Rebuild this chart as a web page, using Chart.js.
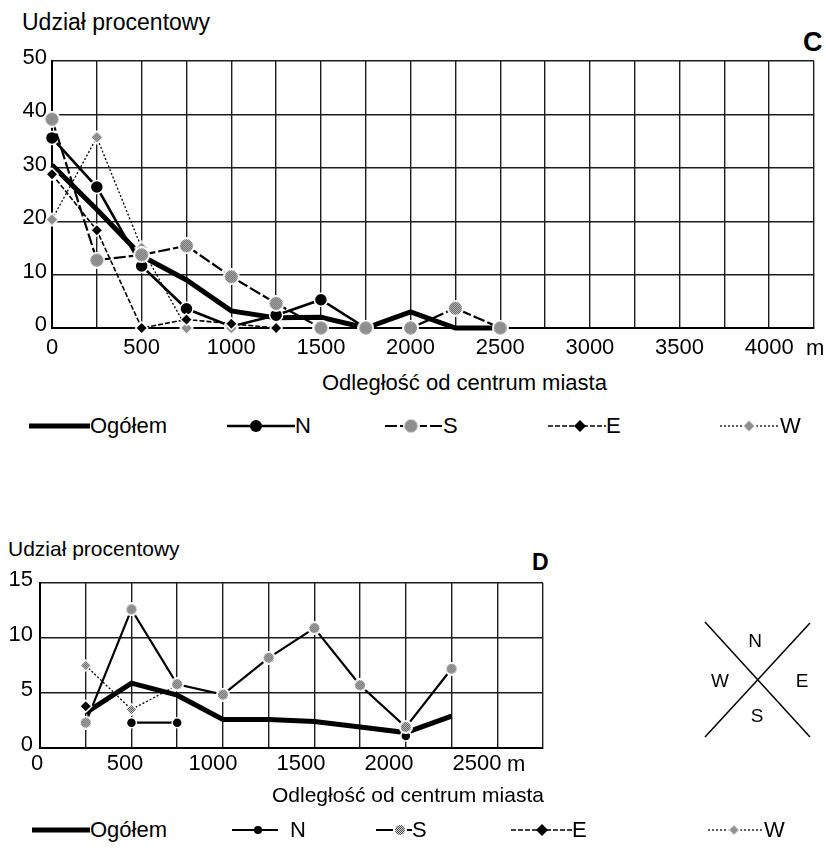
<!DOCTYPE html>
<html>
<head>
<meta charset="utf-8">
<script src="https://cdn.jsdelivr.net/npm/chart.js@4.4.1/dist/chart.umd.min.js"></script>
<style>
  body { margin: 0; background: #fff; width: 826px; height: 853px; position: relative; overflow: hidden;
         font-family: "Liberation Sans", Arial, sans-serif; color: #000; }
  .t { position: absolute; white-space: nowrap; line-height: 1; }
  canvas.chart { position: absolute; left: 0; }
  .lg { position: absolute; display: flex; align-items: center; font-size: 22px; line-height: 1; white-space: nowrap; }
  .lg canvas { display: block; }
</style>
</head>
<body>
<!-- ─── Panel C ─── -->
<div class="t" style="left:22px;top:11px;font-size:23px">Udział procentowy</div>
<div class="t" style="left:803px;top:29px;font-size:27px;font-weight:bold">C</div>
<canvas class="chart" id="chartC" width="826" height="370" style="top:0"></canvas>
<div class="t" style="left:806px;top:337px;font-size:22px">m</div>
<div class="t" style="left:322px;top:372px;font-size:22px">Odległość od centrum miasta</div>
<div id="legendC"></div>

<!-- ─── Panel D ─── -->
<div class="t" style="left:8px;top:538px;font-size:21px">Udział procentowy</div>
<div class="t" style="left:532px;top:551px;font-size:23px;font-weight:bold">D</div>
<canvas class="chart" id="chartD" width="826" height="240" style="top:540px"></canvas>
<div class="t" style="left:507px;top:753px;font-size:22px">m</div>
<div class="t" style="left:272px;top:784px;font-size:21px">Odległość od centrum miasta</div>
<div id="legendD"></div>

<!-- ─── Compass ─── -->
<svg style="position:absolute;left:680px;top:580px" width="146" height="160">
  <line x1="25" y1="42" x2="130" y2="157" stroke="#000" stroke-width="1.5"/>
  <line x1="130" y1="43" x2="25" y2="157" stroke="#000" stroke-width="1.5"/>
  <g font-family="Liberation Sans, Arial, sans-serif" font-size="19" text-anchor="middle" dominant-baseline="central">
    <text x="75" y="60">N</text>
    <text x="40" y="100">W</text>
    <text x="122" y="100">E</text>
    <text x="77" y="135">S</text>
  </g>
</svg>

<script>
/* ══════════════════════════════════════════════════════
   Udział procentowy vs odległość od centrum miasta (C, D)
   ══════════════════════════════════════════════════════ */

/* ─── Data: panel C ─── */
const SERIES = ['Ogółem', 'N', 'S', 'E', 'W'];

const DIST_C   = [0, 250, 500, 750, 1000, 1250, 1500, 1750, 2000, 2250, 2500];
const C_OGOLEM = [30.5, 22.2, 13.5, 9.0, 3.2, 1.9, 2.0, 0, 3.0, 0, 0];
const C_N      = [35.6, 26.4, 11.6, 3.6, 0.3, 2.4, 5.3, 0, null, null, null];
const C_S      = [39.1, 12.7, 13.7, 15.4, 9.6, 4.6, 0, 0, 0, 3.7, 0];
const C_E      = [28.8, 18.3, 0, 1.6, 0.8, 0, null, null, null, null, null];
const C_W      = [20.3, 35.7, 15.0, 0, 0, null, null, null, null, null, null];

const X_LABELS_C = [0, 500, 1000, 1500, 2000, 2500, 3000, 3500, 4000];
const Y_TICKS_C  = [0, 10, 20, 30, 40, 50];

/* ─── Data: panel D ─── */
const DIST_D   = [250, 500, 750, 1000, 1250, 1500, 1750, 2000, 2250];
const D_OGOLEM = [3.2, 5.9, 4.8, 2.6, 2.6, 2.4, 1.9, 1.4, 2.9];
const D_N      = [null, 2.3, 2.3, null, null, null, null, 1.1, null];
const D_S      = [2.3, 12.6, 5.8, 4.85, 8.2, 10.9, 5.7, 1.9, 7.2];
const D_E      = [3.8, null, null, null, null, null, null, null, null];
const D_W      = [7.5, 3.5, 5.7, null, null, null, null, null, null];

const X_LABELS_D = [0, 500, 1000, 1500, 2000, 2500];
const Y_TICKS_D  = [0, 5, 10, 15];

/* ─── Dithered grey markers (scanned halftone look) ─── */
function makeDither(size, shape, halo) {
  const c = document.createElement('canvas');
  c.width = c.height = size;
  const g = c.getContext('2d');
  const m = size / 2;
  const path = (r) => {
    g.beginPath();
    if (shape === 'circle') g.arc(m, m, r, 0, Math.PI * 2);
    else { g.moveTo(m, m - r); g.lineTo(m + r, m); g.lineTo(m, m + r); g.lineTo(m - r, m); g.closePath(); }
  };
  g.fillStyle = '#fff';
  path(m);
  g.fill();
  const p = document.createElement('canvas');
  p.width = p.height = 2;
  const pg = p.getContext('2d');
  pg.fillStyle = '#d4d4d4'; pg.fillRect(0, 0, 2, 2);
  pg.fillStyle = '#4a4a4a'; pg.fillRect(0, 0, 1, 1); pg.fillRect(1, 1, 1, 1);
  g.fillStyle = g.createPattern(p, 'repeat');
  path(m - halo);
  g.fill();
  return c;
}

const S_IMG_C = makeDither(17, 'circle', 2);
const W_IMG_C = makeDither(15, 'diamond', 2);
const S_IMG_D = makeDither(14, 'circle', 2);
const W_IMG_D = makeDither(13, 'diamond', 2);

/* ─── Line styles ─── */
const STYLE_C = {
  'Ogółem': { lw: 5,   dash: [],      marker: null },
  N:        { lw: 2.6, dash: [],      marker: 'circle',  r: 6.5 },
  S:        { lw: 2.2, dash: [12, 3], marker: S_IMG_C,   r: 7 },
  E:        { lw: 1.6, dash: [5, 2],  marker: 'rectRot', r: 6 },
  W:        { lw: 1.3, dash: [2, 2],  marker: W_IMG_C,   r: 6 },
};
const STYLE_D = {
  'Ogółem': { lw: 5,   dash: [],      marker: null },
  N:        { lw: 2.2, dash: [],      marker: 'circle',  r: 5 },
  S:        { lw: 2.2, dash: [],      marker: S_IMG_D,   r: 6 },
  E:        { lw: 1.6, dash: [5, 2],  marker: 'rectRot', r: 6 },
  W:        { lw: 1.3, dash: [2, 2],  marker: W_IMG_D,   r: 6 },
};

const FONT = "'Liberation Sans', Arial, sans-serif";
const GRID = '#1c1c1c';

function toPoints(xs, ys) {
  return xs.map((x, i) => ({ x, y: ys[i] }));
}

function makeDataset(name, xs, ys, st) {
  return {
    label: name,
    data: toPoints(xs, ys),
    borderColor: '#000',
    borderWidth: st.lw,
    borderDash: st.dash,
    tension: 0,
    spanGaps: false,
    clip: false,
    pointStyle: st.marker || 'circle',
    pointRadius: st.marker ? st.r : 0,
    pointBackgroundColor: '#000',
    // white rim, like the gaps round the printed markers
    pointBorderColor: '#fff',
    pointBorderWidth: typeof st.marker === 'string' ? 1.5 : 0,
  };
}

const commonPlugins = { legend: { display: false }, tooltip: { enabled: false } };

// first dataset is painted last (on top): E, S, W over N, thick total underneath
function datasetsFor(xs, set, st) {
  return [
    makeDataset('E', xs, set.E, st.E),
    makeDataset('S', xs, set.S, st.S),
    makeDataset('W', xs, set.W, st.W),
    makeDataset('N', xs, set.N, st.N),
    makeDataset('Ogółem', xs, set.O, st['Ogółem']),
  ];
}

/* ─── Chart C ─── */
new Chart(document.getElementById('chartC'), {
  type: 'line',
  data: { datasets: datasetsFor(DIST_C, { O: C_OGOLEM, N: C_N, S: C_S, E: C_E, W: C_W }, STYLE_C) },
  options: {
    responsive: false,
    animation: false,
    layout: { padding: { top: 61, right: 12, left: 0, bottom: 0 } },
    plugins: commonPlugins,
    scales: {
      x: {
        type: 'linear',
        min: 0,
        max: 4250,
        afterFit: (s) => { s.height = 42; },
        grid: { color: GRID, lineWidth: 1.4, drawTicks: false },
        border: { color: '#000', width: 2 },
        ticks: {
          stepSize: 250,
          autoSkip: false,
          maxRotation: 0,
          padding: 9,
          color: '#000',
          font: { family: FONT, size: 22, lineHeight: 1 },
          callback: (v) => (X_LABELS_C.includes(v) ? String(v) : ''),
        },
      },
      y: {
        min: 0,
        max: 50,
        afterFit: (s) => { s.width = 52; },
        afterBuildTicks: (a) => { a.ticks = Y_TICKS_C.map((v) => ({ value: v })); },
        grid: { color: GRID, lineWidth: 1.4, drawTicks: false },
        border: { color: '#000', width: 2 },
        ticks: { padding: 5, labelOffset: -3, color: '#000', font: { family: FONT, size: 22 } },
      },
    },
  },
});

/* ─── Chart D ─── */
new Chart(document.getElementById('chartD'), {
  type: 'line',
  data: { datasets: datasetsFor(DIST_D, { O: D_OGOLEM, N: D_N, S: D_S, E: D_E, W: D_W }, STYLE_D) },
  options: {
    responsive: false,
    animation: false,
    layout: { padding: { top: 43, right: 283, left: 0, bottom: 0 } },
    plugins: commonPlugins,
    scales: {
      x: {
        type: 'linear',
        min: 0,
        max: 2750,
        afterFit: (s) => { s.height = 0; },
        grid: { color: GRID, lineWidth: 1.4, drawTicks: false },
        border: { color: '#000', width: 2 },
        ticks: { display: false, stepSize: 250 },
      },
      // labels of the printed axis sit slightly off the grid; a label-only axis carries them
      xl: {
        type: 'linear',
        position: 'bottom',
        min: 17,
        max: 2875,
        afterFit: (s) => { s.height = 32; },
        afterBuildTicks: (a) => { a.ticks = X_LABELS_D.map((v) => ({ value: v })); },
        grid: { display: false, drawTicks: false },
        border: { display: false },
        ticks: {
          autoSkip: false,
          maxRotation: 0,
          padding: 5,
          color: '#000',
          font: { family: FONT, size: 22, lineHeight: 1 },
          callback: (v) => String(v),
        },
      },
      y: {
        min: 0,
        max: 15,
        afterFit: (s) => { s.width = 40; },
        afterBuildTicks: (a) => { a.ticks = Y_TICKS_D.map((v) => ({ value: v })); },
        grid: { color: GRID, lineWidth: 1.4, drawTicks: false },
        border: { color: '#000', width: 2 },
        ticks: { padding: 7, labelOffset: -3, color: '#000', font: { family: FONT, size: 22 } },
      },
    },
  },
});

/* ─── HTML legends ─── */
function drawMarker(g, marker, x, y, r) {
  if (!marker) return;
  if (marker instanceof HTMLCanvasElement) {
    g.drawImage(marker, x - marker.width / 2, y - marker.height / 2);
    return;
  }
  g.setLineDash([]);
  g.fillStyle = '#000';
  g.beginPath();
  if (marker === 'circle') g.arc(x, y, r, 0, Math.PI * 2);
  else { g.moveTo(x, y - r); g.lineTo(x + r, y); g.lineTo(x, y + r); g.lineTo(x - r, y); g.closePath(); }
  g.fill();
}

function buildLegend(id, top, styles, layout) {
  const host = document.getElementById(id);
  SERIES.forEach((name, i) => {
    const L = layout[i];
    const st = styles[name];
    const item = document.createElement('div');
    item.className = 'lg';
    item.style.left = L.left + 'px';
    item.style.top = top + 'px';
    const cv = document.createElement('canvas');
    cv.width = L.w;
    cv.height = 22;
    const g = cv.getContext('2d');
    g.strokeStyle = '#000';
    g.lineWidth = st.lw;
    g.setLineDash(st.dash);
    g.beginPath();
    g.moveTo(0, 11);
    g.lineTo(L.w, 11);
    g.stroke();
    drawMarker(g, st.marker, L.mx, 11, L.r || st.r);
    const span = document.createElement('span');
    span.textContent = name;
    span.style.marginLeft = (L.gap || 0) + 'px';
    item.appendChild(cv);
    item.appendChild(span);
    host.appendChild(item);
  });
}

buildLegend('legendC', 415, STYLE_C, [
  { left: 29,  w: 61 },
  { left: 227, w: 68, mx: 29, r: 6 },
  { left: 385, w: 58, mx: 26 },
  { left: 548, w: 58, mx: 32, r: 6 },
  { left: 720, w: 60, mx: 29 },
]);

buildLegend('legendD', 819, STYLE_D, [
  { left: 32,  w: 58 },
  { left: 232, w: 46, mx: 26, r: 4, gap: 12 },
  { left: 376, w: 36, mx: 24 },
  { left: 511, w: 61, mx: 31, r: 6 },
  { left: 708, w: 56, mx: 26 },
]);
</script>
</body>
</html>
